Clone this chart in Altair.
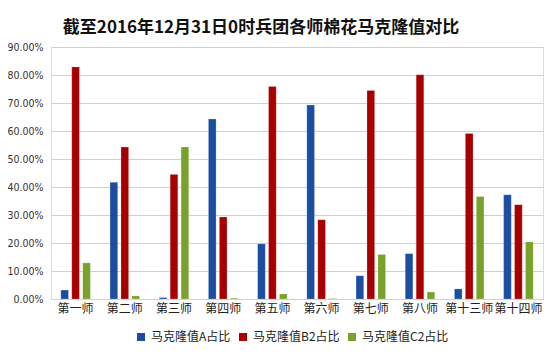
import altair as alt
import pandas as pd

categories = ["第一师", "第二师", "第三师", "第四师", "第五师", "第六师", "第七师", "第八师", "第十三师", "第十四师"]
series = ["马克隆值A占比", "马克隆值B2占比", "马克隆值C2占比"]
val_a = [0.032, 0.417, 0.005, 0.643, 0.197, 0.693, 0.083, 0.162, 0.036, 0.372]
val_b2 = [0.829, 0.543, 0.445, 0.293, 0.759, 0.283, 0.745, 0.801, 0.591, 0.337]
val_c2 = [0.129, 0.011, 0.543, 0.003, 0.018, 0.002, 0.159, 0.025, 0.366, 0.204]
colors = ["#1B4DA0", "#A80000", "#79A22C"]

rows = []
for s, vals in zip(series, [val_a, val_b2, val_c2]):
    for c, v in zip(categories, vals):
        rows.append({"师": c, "系列": s, "值": v})
df = pd.DataFrame(rows)

font = "Noto Sans CJK SC"

chart = alt.Chart(df).mark_bar(stroke="#ffffff", strokeOpacity=0.35, strokeWidth=0.6).encode(
    x=alt.X("师:N", sort=categories, title=None,
            scale=alt.Scale(paddingInner=0.4, paddingOuter=0.2),
            axis=alt.Axis(labelAngle=0, labelFontSize=12, labelColor="#222222",
                          labelFont=font, ticks=False, domainColor="#d0d0d0",
                          labelPadding=4)),
    xOffset=alt.XOffset("系列:N", sort=series, scale=alt.Scale(paddingInner=0.3)),
    y=alt.Y("值:Q", title=None,
            scale=alt.Scale(domain=[0, 0.9], nice=False),
            axis=alt.Axis(format=".2%", values=[0, 0.1, 0.2, 0.3, 0.4, 0.5, 0.6, 0.7, 0.8, 0.9],
                          domain=False, ticks=False, gridColor="#d0d0d0",
                          labelFontSize=10.5, labelColor="#333333", labelPadding=8,
                          labelFont="DejaVu Sans Condensed")),
    color=alt.Color("系列:N", sort=series, title=None,
                    scale=alt.Scale(domain=series, range=colors),
                    legend=alt.Legend(orient="none", direction="horizontal",
                                      legendX=84, legendY=284,
                                      symbolType="square", symbolSize=64,
                                      labelFontSize=12, labelFont=font,
                                      labelColor="#222222", columnPadding=6,
                                      labelOffset=4, symbolStrokeWidth=0)),
).properties(
    width=492, height=252,
    autosize=alt.AutoSizeParams(type="none"),
    padding={"left": 43, "top": 39, "right": 7, "bottom": 51},
    title=alt.TitleParams("截至2016年12月31日0时兵团各师棉花马克隆值对比",
                          fontSize=17, font=font, fontWeight="bold", color="#111111",
                          anchor="middle", dx=-36, offset=5),
).configure_view(stroke=None).configure(background="white")

chart.save("out.html", embed_options={"renderer": "svg", "actions": False})
